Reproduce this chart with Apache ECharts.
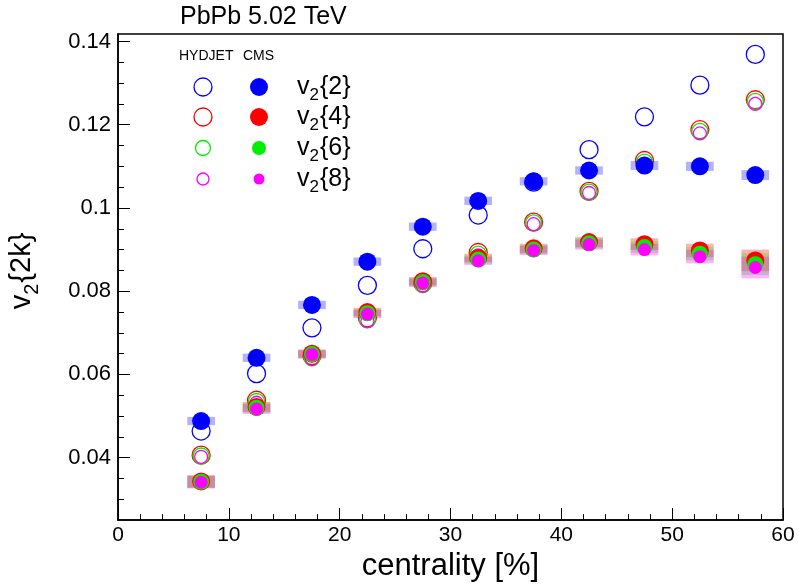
<!DOCTYPE html>
<html>
<head>
<meta charset="utf-8">
<script src="https://cdn.jsdelivr.net/npm/echarts@6/dist/echarts.min.js"></script>
<style>html,body{margin:0;padding:0;background:#fff}#c{width:799px;height:587px}</style>
</head>
<body>
<div id="c"></div>
<script>
const centrality = [7.5, 12.5, 17.5, 22.5, 27.5, 32.5, 37.5, 42.5, 47.5, 52.5, 57.5];
const hydV2_2 = [0.0464, 0.0602, 0.0712, 0.0814, 0.0902, 0.0983, 0.1062, 0.1140, 0.1219, 0.1295, 0.1369];
const hydV2_4 = [0.0406, 0.0538, 0.0645, 0.0736, 0.0820, 0.0893, 0.0966, 0.1040, 0.1114, 0.1188, 0.1260];
const hydV2_6 = [0.0404, 0.0535, 0.0640, 0.0731, 0.0816, 0.0889, 0.0964, 0.1038, 0.1110, 0.1184, 0.1256];
const hydV2_8 = [0.0402, 0.0532, 0.0637, 0.0728, 0.0813, 0.0886, 0.0961, 0.1036, 0.1106, 0.1179, 0.1250];
const cmsV2_2 = [0.0488, 0.0640, 0.0767, 0.0871, 0.0955, 0.1017, 0.1064, 0.1090, 0.1102, 0.1100, 0.1079];
const cmsV2_4 = [0.0343, 0.0522, 0.0650, 0.0750, 0.0824, 0.0880, 0.0903, 0.0918, 0.0913, 0.0898, 0.0874];
const cmsV2_6 = [0.0342, 0.0520, 0.0649, 0.0747, 0.0822, 0.0876, 0.0900, 0.0915, 0.0906, 0.0890, 0.0865];
const cmsV2_8 = [0.0341, 0.0517, 0.0648, 0.0745, 0.0820, 0.0873, 0.0898, 0.0912, 0.0900, 0.0883, 0.0857];
const cmsSys2 = [0.0010, 0.0010, 0.0010, 0.0010, 0.0010, 0.0010, 0.0010, 0.0010, 0.0011, 0.0011, 0.0012];
const cmsSys4 = [0.0015, 0.0012, 0.0010, 0.0010, 0.0010, 0.0010, 0.0011, 0.0012, 0.0014, 0.0016, 0.0026];
const cmsSys6 = [0.0015, 0.0012, 0.0010, 0.0010, 0.0010, 0.0010, 0.0011, 0.0012, 0.0014, 0.0016, 0.0026];
const cmsSys8 = [0.0015, 0.0012, 0.0010, 0.0010, 0.0010, 0.0010, 0.0011, 0.0012, 0.0014, 0.0016, 0.0026];
const yTickLabels = [0.04, 0.06, 0.08, 0.1, 0.12, 0.14];
const yMinorTicks = [0.03, 0.035, 0.045, 0.05, 0.055, 0.065, 0.07, 0.075, 0.085, 0.09, 0.095, 0.105, 0.11, 0.115, 0.125, 0.13, 0.135];
const legendLabels = ['{2}', '{4}', '{6}', '{8}'];

const FONT = "'Liberation Sans', Arial, Helvetica, sans-serif";
const colors = ['#0000ff', '#ff0000', '#00ee00', '#ff00ff'];
const boxFill = ['rgba(0,0,255,0.3)', 'rgba(255,0,0,0.3)', 'rgba(0,255,0,0.3)', 'rgba(255,0,255,0.3)'];
const sizes = [18, 18, 16, 13];
const boxHalfWidth = 1.25;

const hyd = [hydV2_2, hydV2_4, hydV2_6, hydV2_8];
const cms = [cmsV2_2, cmsV2_4, cmsV2_6, cmsV2_8];
const sys = [cmsSys2, cmsSys4, cmsSys6, cmsSys8];

const series = [];
hyd.forEach((vals, i) => {
  series.push({
    type: 'scatter', z: 2, symbol: 'circle', symbolSize: sizes[i],
    data: centrality.map((x, j) => [x, vals[j]]),
    itemStyle: { color: 'rgba(0,0,0,0)', borderColor: colors[i], borderWidth: 1.3, opacity: 1 },
    silent: true
  });
});
sys.forEach((errs, i) => {
  series.push({
    type: 'custom', z: 3, silent: true,
    data: centrality.map((x, j) => [x, cms[i][j], errs[j]]),
    renderItem: function (params, api) {
      const x = api.value(0), y = api.value(1), e = api.value(2);
      const p1 = api.coord([x - boxHalfWidth, y + e]);
      const p2 = api.coord([x + boxHalfWidth, y - e]);
      return { type: 'rect', shape: { x: p1[0], y: p1[1], width: p2[0] - p1[0], height: p2[1] - p1[1] }, style: { fill: boxFill[i] } };
    }
  });
});
cms.forEach((vals, i) => {
  series.push({
    type: 'scatter', z: 4, symbol: 'circle', symbolSize: sizes[i],
    data: centrality.map((x, j) => [x, vals[j]]),
    itemStyle: { color: colors[i], opacity: 1 },
    silent: true
  });
});

const subRich = {
  s: { fontSize: 17, fontFamily: FONT, fill: '#000', verticalAlign: 'bottom', lineHeight: 17, padding: [17, 1, 0, 0] }
};

const graphics = [
  { type: 'text', left: 180, top: 5, style: { text: 'PbPb 5.02 TeV', fontSize: 25, fontFamily: FONT, fill: '#000' } },
  { type: 'text', left: 179, top: 49, style: { text: 'HYDJET', fontSize: 14, fontFamily: FONT, fill: '#000' } },
  { type: 'text', left: 243, top: 49, style: { text: 'CMS', fontSize: 14, fontFamily: FONT, fill: '#000' } },
  { type: 'text', x: 22, y: 271, rotation: Math.PI / 2,
    style: { text: 'v{s|2}{2k}', fontSize: 29, lineHeight: 40, fontFamily: FONT, fill: '#000', align: 'center', verticalAlign: 'middle',
      rich: { s: { fontSize: 20, fontFamily: FONT, fill: '#000', verticalAlign: 'bottom', lineHeight: 20, padding: [20, 1, 0, 0] } } } }
];
const legY = [87, 117, 148, 179];
const legOpen = [18, 18, 15, 12];
const legFill = [18, 18, 14, 11];
legY.forEach((y, i) => {
  graphics.push({ type: 'circle', shape: { cx: 203, cy: y, r: legOpen[i] / 2 }, style: { fill: 'none', stroke: colors[i], lineWidth: 1.3 } });
  graphics.push({ type: 'circle', shape: { cx: 259, cy: y, r: legFill[i] / 2 }, style: { fill: colors[i] } });
  graphics.push({ type: 'text', x: 297, y: y, style: { text: 'v{s|2}' + legendLabels[i], fontSize: 25, lineHeight: 34, fontFamily: FONT, fill: '#000', verticalAlign: 'middle', rich: subRich } });
});

const chart = echarts.init(document.getElementById('c'), null, { renderer: 'canvas' });
chart.setOption({
  animation: false,
  backgroundColor: '#fff',
  grid: { left: 118, right: 16, top: 34, bottom: 62, show: true, borderColor: '#000', borderWidth: 1.5, backgroundColor: 'rgba(0,0,0,0)' },
  xAxis: {
    type: 'value', min: 0, max: 60, interval: 10,
    axisLine: { show: true, lineStyle: { color: '#000', width: 1.5 } },
    axisTick: { show: true, inside: true, length: 12, lineStyle: { color: '#000', width: 1 } },
    minorTick: { show: true, splitNumber: 5, length: 6, lineStyle: { color: '#000', width: 1 } },
    splitLine: { show: false }, minorSplitLine: { show: false },
    axisLabel: { color: '#000', fontSize: 21, fontFamily: FONT, margin: 5 },
    name: 'centrality [%]', nameLocation: 'middle', nameGap: 27,
    nameTextStyle: { fontSize: 31, color: '#000', fontFamily: FONT }
  },
  yAxis: [{
    type: 'value', min: 0.025, max: 0.1418,
    axisLine: { show: true, lineStyle: { color: '#000', width: 1.5 } },
    axisTick: { show: true, inside: true, length: 12, customValues: yTickLabels, lineStyle: { color: '#000', width: 1 } },
    splitLine: { show: false },
    axisLabel: { color: '#000', fontSize: 22, fontFamily: FONT, margin: 7, customValues: yTickLabels, formatter: v => String(v) }
  }, {
    type: 'value', min: 0.025, max: 0.1418, position: 'left',
    axisLine: { show: false },
    axisTick: { show: true, inside: true, length: 6, customValues: yMinorTicks, lineStyle: { color: '#000', width: 1 } },
    splitLine: { show: false },
    axisLabel: { show: false, customValues: yMinorTicks }
  }],
  series: series,
  graphic: graphics
});
</script>
</body>
</html>
